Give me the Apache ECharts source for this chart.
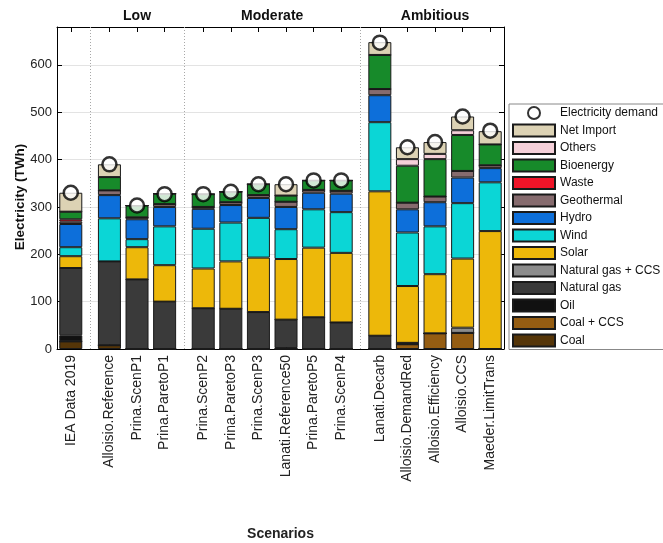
<!DOCTYPE html>
<html>
<head>
<meta charset="utf-8">
<script src="https://cdn.jsdelivr.net/npm/echarts@6/dist/echarts.min.js"></script>
<style>
  html, body { margin: 0; padding: 0; background: #fff; }
  #chart { width: 663px; height: 543px; }
</style>
</head>
<body>
<div id="chart"></div>
<script>
// Scenario names and the ambition group each one belongs to ('' = historical data)
const scenarios = ['IEA Data 2019', 'Alloisio.Reference', 'Prina.ScenP1', 'Prina.ParetoP1',
  'Prina.ScenP2', 'Prina.ParetoP3', 'Prina.ScenP3', 'Lanati.Reference50', 'Prina.ParetoP5', 'Prina.ScenP4',
  'Lanati.Decarb', 'Alloisio.DemandRed', 'Alloisio.Efficiency', 'Alloisio.CCS', 'Maeder.LimitTrans'];
const groupOf = ['', 'Low', 'Low', 'Low',
  'Moderate', 'Moderate', 'Moderate', 'Moderate', 'Moderate', 'Moderate',
  'Ambitious', 'Ambitious', 'Ambitious', 'Ambitious', 'Ambitious'];
const groupNames = ['Low', 'Moderate', 'Ambitious'];

// Generation by source (TWh), stacked from the bottom up
const coal       = [16, 8, 0, 0,   0, 0, 0, 0, 0, 0,   0, 0, 0, 0, 0];
const coalCCS    = [0, 0, 0, 0,    0, 0, 0, 0, 0, 0,   0, 10, 33, 34, 0];
const oil        = [13, 0, 0, 0,   0, 0, 0, 2, 0, 0,   0, 0, 0, 0, 0];
const natGas     = [142, 177, 147, 100,  86, 85, 78, 60, 67, 56,  28, 3, 0, 0, 0];
const natGasCCS  = [0, 0, 0, 0,    0, 0, 0, 0, 0, 0,   0, 0, 0, 11, 0];
const solar      = [25, 0, 68, 77,  84, 100, 115, 128, 147, 147,  305, 120, 125, 146, 249];
const wind       = [19, 91, 17, 82,  84, 82, 84, 63, 81, 86,  146, 113, 101, 117, 103];
const hydro      = [49, 49, 42, 41,  42, 37, 42, 47, 35, 39,  57, 49, 51, 54, 30];
const geothermal = [5, 10, 4, 6,   4, 6, 6, 11, 6, 6,   13, 14, 12, 14, 6];
const waste      = [5, 0, 0, 0,    0, 0, 0, 0, 0, 0,   0, 0, 0, 0, 0];
const bioenergy  = [16, 28, 25, 22,  27, 22, 23, 13, 20, 22,  72, 78, 79, 76, 44];
const others     = [0, 0, 0, 0,    0, 0, 0, 0, 0, 0,   0, 14, 11, 10, 0];
const netImport  = [40, 27, 0, 0,   0, 0, 0, 24, 0, 0,   27, 25, 25, 29, 28];
const demand     = [330, 390, 303, 327,  327, 332, 348, 348, 356, 356,  647, 426, 437, 491, 461];

// Stack definition (bottom to top) with fill colours
const sources = [
  { name: 'Coal', values: coal, color: '#553508' },
  { name: 'Coal + CCS', values: coalCCS, color: '#955d12' },
  { name: 'Oil', values: oil, color: '#111111' },
  { name: 'Natural gas', values: natGas, color: '#3a3a3a' },
  { name: 'Natural gas + CCS', values: natGasCCS, color: '#8c8c8c' },
  { name: 'Solar', values: solar, color: '#edb80a' },
  { name: 'Wind', values: wind, color: '#0bd6d6' },
  { name: 'Hydro', values: hydro, color: '#0d6fda' },
  { name: 'Geothermal', values: geothermal, color: '#866b6e' },
  { name: 'Waste', values: waste, color: '#f01428' },
  { name: 'Bioenergy', values: bioenergy, color: '#178a2a' },
  { name: 'Others', values: others, color: '#f5d0d9' },
  { name: 'Net Import', values: netImport, color: '#dcd2b4' }
];

// Bar positions along x: one unit per scenario plus a small gap between groups
const GROUP_GAP = 0.4;
const STEP = 0.1;                // resolution of the fine category slots
const xPos = [];
scenarios.forEach((s, i) => {
  if (i === 0) { xPos.push(0); return; }
  const step = groupOf[i] !== groupOf[i - 1] ? 1 + GROUP_GAP : 1;
  xPos.push(xPos[i - 1] + step);
});
const groupCenters = groupNames.map(g => {
  const p = xPos.filter((x, i) => groupOf[i] === g);
  return p.reduce((a, b) => a + b, 0) / p.length;
});
const separators = [];
for (let i = 1; i < scenarios.length; i++) {
  if (groupOf[i] !== groupOf[i - 1]) separators.push((xPos[i] + xPos[i - 1]) / 2);
}
const X_MIN = -0.5, X_MAX = xPos[xPos.length - 1] + 0.5;
const slotOf = x => Math.round((x - X_MIN) / STEP);
const SLOT_COUNT = slotOf(X_MAX) + 1;
const slots = Array.from({ length: SLOT_COUNT }, (_, k) => 's' + k);
const barSlot = xPos.map(slotOf);
const scenarioAtSlot = k => { const i = barSlot.indexOf(k); return i >= 0 ? scenarios[i] : ''; };
const spread = values => {
  const arr = new Array(SLOT_COUNT).fill('-');
  barSlot.forEach((k, i) => { arr[k] = values[i]; });
  return arr;
};
const near = (a, b) => Math.abs(a - b) < 1e-6;
const FONT = '"Liberation Sans", Arial, Helvetica, sans-serif';

const barSeries = sources.map(src => ({
  name: src.name,
  type: 'bar',
  stack: 'total',
  barWidth: 23,
  xAxisIndex: 0,
  data: spread(src.values),
  itemStyle: { color: src.color, borderColor: '#1a1a1a', borderWidth: 1 },
  emphasis: { disabled: true },
  silent: true
}));

const demandSeries = {
  name: 'Electricity demand',
  type: 'scatter',
  xAxisIndex: 0,
  data: spread(demand),
  symbol: 'circle',
  symbolSize: 14,
  itemStyle: { color: '#ffffff', borderColor: '#000000', borderWidth: 2.5 },
  z: 10,
  silent: true,
  markLine: {
    silent: true,
    symbol: 'none',
    label: { show: false },
    lineStyle: { type: [1, 2], color: '#a8a8a8', width: 1 },
    data: separators.map(v => ({ xAxis: slotOf(v) }))
  }
};

const legendOrder = ['Electricity demand'].concat(sources.map(s => s.name).reverse());

const chart = echarts.init(document.getElementById('chart'), null, { renderer: 'canvas' });
chart.setOption({
  animation: false,
  backgroundColor: '#ffffff',
  textStyle: { fontFamily: FONT },
  grid: { left: 57, right: 159, top: 27, bottom: 194, outerBoundsMode: 'none', containLabel: false },
  legend: {
    orient: 'vertical',
    left: 509,
    top: 104,
    itemWidth: 42,
    itemHeight: 12,
    itemGap: 3.5,
    padding: [2, 6, 2, 3],
    borderColor: '#888',
    borderWidth: 1,
    backgroundColor: '#ffffff',
    selectedMode: false,
    textStyle: { fontSize: 12, color: '#111', fontFamily: FONT },
    data: legendOrder.map(n => n === 'Electricity demand'
      ? { name: n, icon: 'circle' }
      : { name: n, icon: 'rect' })
  },
  xAxis: [
    {
      type: 'category',
      position: 'bottom',
      data: slots,
      boundaryGap: false,
      splitLine: { show: false },
      axisLine: { show: true, onZero: false, lineStyle: { color: '#000', width: 1 } },
      axisTick: {
        show: true, inside: true, length: 5,
        interval: k => barSlot.indexOf(k) >= 0,
        lineStyle: { color: '#000' }
      },
      axisLabel: {
        interval: 0,
        formatter: (v, k) => scenarioAtSlot(k),
        rotate: 90,
        margin: 6,
        fontSize: 14,
        color: '#222',
        fontFamily: FONT
      },
      name: 'Scenarios',
      nameLocation: 'middle',
      nameGap: 178,
      nameMoveOverlap: false,
      nameTextStyle: { fontWeight: 'bold', fontSize: 14, color: '#222', fontFamily: FONT }
    },
    {
      type: 'value',
      position: 'top',
      min: X_MIN,
      max: X_MAX,
      splitLine: { show: false },
      axisLine: { show: true, onZero: false, lineStyle: { color: '#000', width: 1 } },
      axisTick: { show: true, inside: true, length: 5, customValues: xPos, lineStyle: { color: '#000' } },
      axisLabel: {
        customValues: groupCenters,
        formatter: v => { const i = groupCenters.findIndex(p => near(p, v)); return i >= 0 ? groupNames[i] : ''; },
        margin: 4,
        fontSize: 14,
        fontWeight: 'bold',
        color: '#111',
        fontFamily: FONT
      }
    }
  ],
  yAxis: [
    {
      type: 'value',
      position: 'left',
      min: 0,
      max: 680,
      interval: 100,
      axisLine: { show: true, onZero: false, lineStyle: { color: '#000', width: 1 } },
      axisTick: { show: true, inside: true, length: 5, lineStyle: { color: '#000' } },
      axisLabel: { fontSize: 13, color: '#222', margin: 5, showMaxLabel: false, fontFamily: FONT },
      splitLine: { show: true, lineStyle: { color: '#e3e3e3', width: 1 } },
      name: 'Electricity (TWh)',
      nameLocation: 'middle',
      nameGap: 30,
      nameMoveOverlap: false,
      nameTextStyle: { fontWeight: 'bold', fontSize: 13.5, color: '#111', fontFamily: FONT, padding: [0, 18, 0, 0] }
    },
    {
      type: 'value',
      position: 'right',
      min: 0,
      max: 680,
      interval: 100,
      axisLine: { show: true, onZero: false, lineStyle: { color: '#000', width: 1 } },
      axisTick: { show: true, inside: true, length: 5, lineStyle: { color: '#000' } },
      axisLabel: { show: false },
      splitLine: { show: false }
    }
  ],
  series: barSeries.concat([demandSeries])
});
</script>
</body>
</html>
